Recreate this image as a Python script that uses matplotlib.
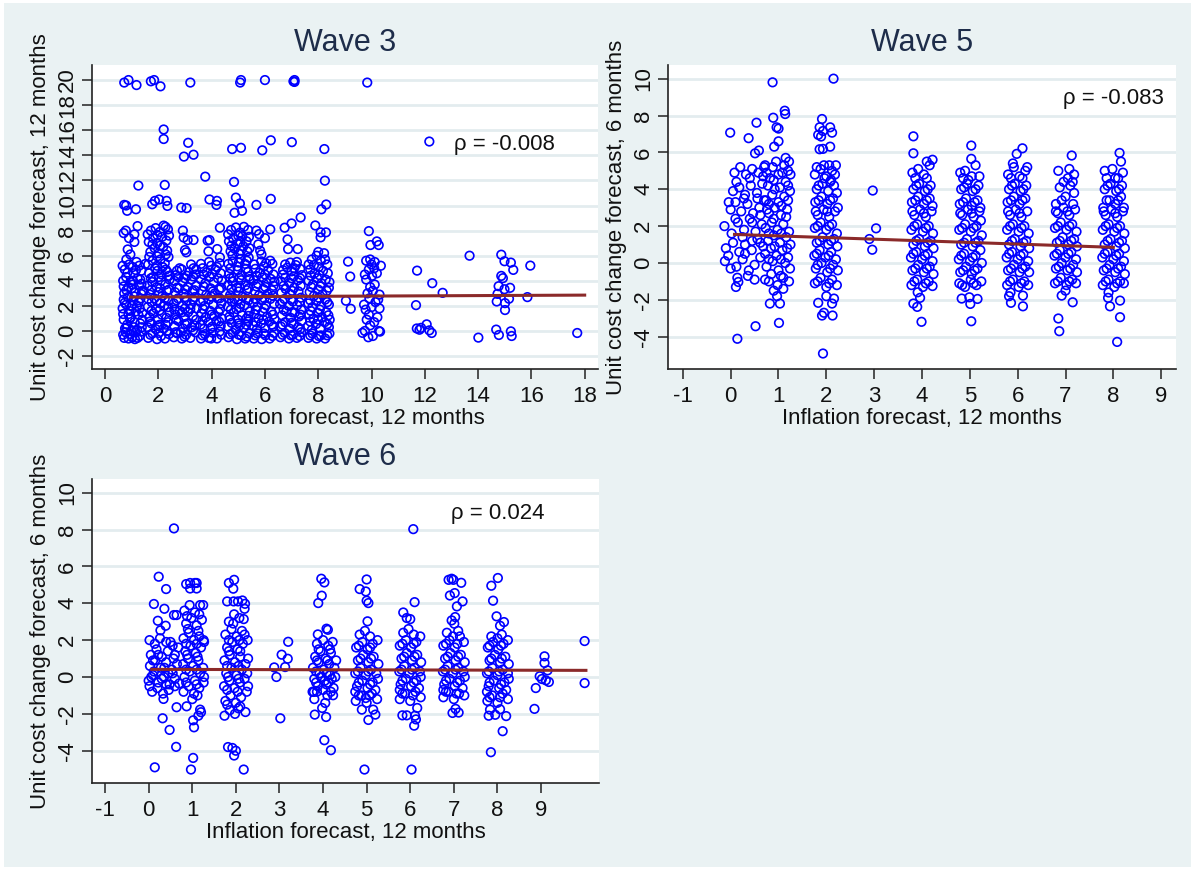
import matplotlib
matplotlib.use("Agg")
import matplotlib.pyplot as plt
from matplotlib.patches import Rectangle

plt.rcParams['font.family'] = ['Liberation Sans', 'DejaVu Sans']
plt.rcParams['axes.unicode_minus'] = False

# ---------------- data (inflation forecast x, unit cost change forecast y) -------------
# Wave 3
w3_c1 = [(0.68,-0.3),(0.75,0.2),(0.88,-0.6),(1.02,-0.5),(1.15,-0.1),(1.3,-0.4),(1.38,0.3),(0.7,0.9),
         (0.83,0.5),(0.97,1.1),(1.1,0.7),(1.25,1.3),(1.4,0.9),(0.66,1.8),(0.8,2.1),(0.92,1.6),(1.06,2.4),
         (1.2,2.0),(1.33,2.6),(0.72,3.0),(0.86,2.7),(1.0,3.4),(1.14,3.1),(1.28,3.6),(1.4,3.2),(0.68,4.0),
         (0.79,4.3),(0.95,3.9),(1.08,4.6),(1.22,4.2),(1.36,4.8),(0.74,4.9),(0.9,5.3),(1.04,5.1),(1.18,5.5),
         (0.8,5.7),(0.95,6.1),(0.85,6.5),(0.93,1.0),(1.3,1.8),(0.77,-0.1),(1.2,0.1),(0.98,0.0),(1.12,-0.65),
         (0.7,2.5),(1.05,4.0),(0.88,3.5),(1.51,5.34),(1.37,3.76),(1.45,3.2),
         (0.72,-0.55),(0.95,-0.25),(1.22,-0.55),(1.35,-0.05),(0.8,0.25),(1.08,0.3),(1.32,0.6),(0.68,1.35),
         (0.88,1.35),(1.15,1.55),(1.4,1.45),(0.74,2.25),(1.0,2.0),(1.26,2.3),(0.8,3.25),(1.1,2.75),
         (1.36,2.95),(0.7,3.55),(1.04,3.7),(1.32,4.1),(0.84,4.65),(1.16,4.85),(0.66,5.2),(1.28,5.2),
         (0.72,19.8),(0.88,20.0),(1.18,19.6),(1.25,11.59),(0.72,10.05),(0.79,10.0),(0.83,9.58),(1.16,9.7),
         (0.7,7.8),(0.78,8.0),(1.22,8.36),(1.1,7.7),(0.9,7.4),(1.1,7.1)]
w3_c2 = [(1.62,-0.55),(1.78,-0.2),(1.95,-0.65),(2.1,-0.4),(2.25,-0.6),(2.4,-0.25),(1.6,0.3),(1.74,0.6),
         (1.9,0.15),(2.05,0.5),(2.2,0.2),(2.36,0.7),(1.66,1.1),(1.82,1.4),(1.98,0.95),(2.13,1.3),(2.3,1.05),
         (2.42,1.5),(1.6,1.9),(1.75,2.3),(1.92,1.8),(2.07,2.2),(2.22,2.0),(2.38,2.4),(1.68,2.9),(1.85,2.6),
         (2.0,3.1),(2.15,2.8),(2.32,3.2),(1.6,3.6),(1.77,3.9),(1.94,3.5),(2.1,4.0),(2.26,3.7),(2.42,4.1),
         (1.65,4.6),(1.8,4.3),(1.97,4.8),(2.12,4.5),(2.28,4.9),(2.4,4.4),(1.62,5.3),(1.78,5.6),(1.95,5.2),
         (2.08,5.7),(2.24,5.4),(2.38,5.9),(1.7,6.3),(1.86,6.6),(2.02,6.2),(2.18,6.7),(2.33,6.4),(1.64,7.1),
         (1.8,7.4),(1.96,7.0),(2.14,7.5),(2.3,7.2),(1.72,8.0),(1.9,8.2),(2.06,7.9),(2.2,8.4),(2.36,8.1),
         (2.27,8.3),
         (1.7,-0.3),(2.02,-0.15),(2.32,0.0),(1.68,0.75),(1.98,0.4),(2.28,0.5),(1.74,1.6),(2.05,1.65),
         (2.38,1.9),(1.62,2.55),(1.94,2.4),(2.24,2.6),(1.75,3.3),(2.07,3.4),(2.4,3.3),(1.72,4.2),(2.02,4.3),
         (2.34,4.7),(1.88,5.0),(2.16,5.1),(1.66,5.9),(1.96,5.95),(2.28,6.1),(1.78,6.9),(2.06,6.8),(2.4,7.6),
         (1.6,7.7),(1.96,7.65),
         (1.72,19.9),(1.84,20.0),(2.08,19.5),(2.2,16.06),(2.2,15.3),(2.24,11.64),(1.77,10.1),(1.87,10.37),
         (2.03,10.48),(2.31,10.37),(2.34,9.97)]
w3_c3 = [(2.58,-0.5),(2.72,-0.2),(2.88,-0.6),(3.04,-0.3),(3.2,-0.55),(3.38,-0.1),(2.6,0.4),(2.76,0.8),
         (2.92,0.2),(3.08,0.6),(3.25,0.3),(3.42,0.9),(2.64,1.3),(2.8,1.6),(2.96,1.1),(3.12,1.5),(3.3,1.2),
         (3.44,1.8),(2.58,2.2),(2.74,2.6),(2.9,2.0),(3.06,2.4),(3.22,2.1),(3.36,2.7),(2.62,3.1),(2.78,3.4),
         (2.95,3.0),(3.1,3.5),(3.28,3.2),(3.43,3.6),(2.6,4.0),(2.75,4.3),(2.92,3.9),(3.08,4.4),(3.24,4.1),
         (3.4,4.5),(2.7,4.8),(2.88,4.9),(3.15,4.7),(3.32,5.0),(3.0,1.8),(2.85,-0.1),(3.23,5.3),
         (2.65,-0.1),(2.98,-0.45),(3.3,0.05),(2.68,0.9),(3.0,0.55),(3.36,0.45),(2.6,1.7),(2.9,1.5),
         (3.2,1.75),(2.68,2.45),(3.0,2.7),(3.3,2.5),(2.7,3.45),(3.02,3.3),(3.36,3.25),(2.66,4.45),
         (3.0,4.2),(3.3,4.35),(2.8,5.0),(3.42,4.9),
         (2.92,8.0),(2.95,7.45),(3.1,7.25),(3.32,7.25),(3.0,6.45),(3.05,6.27),(2.86,9.84),(3.06,9.79),
         (2.96,13.9),(3.32,14.05),(3.12,15.0),(3.2,19.8)]
w3_c4 = [(3.6,-0.6),(3.75,-0.25),(3.9,-0.55),(4.05,-0.15),(4.2,-0.6),(4.36,-0.3),(3.58,0.5),(3.72,0.2),
         (3.88,0.7),(4.02,0.35),(4.18,0.8),(4.34,0.4),(3.62,1.4),(3.78,1.1),(3.94,1.6),(4.1,1.2),(4.26,1.5),
         (4.38,1.0),(3.58,2.3),(3.74,2.0),(3.9,2.5),(4.06,2.1),(4.22,2.6),(4.36,2.2),(3.64,3.2),(3.8,2.9),
         (3.96,3.4),(4.12,3.0),(4.28,3.3),(3.6,4.1),(3.76,3.8),(3.92,4.3),(4.08,3.9),(4.24,4.2),(4.38,4.0),
         (3.66,5.0),(3.82,4.7),(3.98,5.2),(4.14,4.9),(4.3,5.4),(3.9,5.5),(4.31,5.87),
         (3.66,-0.35),(3.98,-0.6),(4.3,-0.05),(3.66,0.85),(3.96,0.2),(4.28,0.75),(3.68,1.75),(4.0,1.3),
         (4.32,1.75),(3.68,2.45),(3.98,2.75),(4.3,2.6),(3.7,3.55),(4.04,3.15),(4.36,3.45),(3.7,4.5),
         (4.02,4.55),(4.34,4.6),(3.6,5.35),(4.2,5.1),
         (3.85,7.2),(3.92,7.25),(3.88,6.35),(4.31,8.23),(4.21,6.53),(3.92,10.48),(4.2,10.37),(4.18,10.05),
         (3.76,12.3)]
w3_c5 = [(4.63,-0.5),(4.79,-0.15),(4.95,-0.65),(5.11,-0.35),(5.26,-0.6),(5.41,-0.2),(4.61,0.35),(4.75,0.65),
         (4.91,0.1),(5.06,0.45),(5.21,0.25),(5.37,0.75),(4.67,1.15),(4.83,1.45),(4.99,0.9),(5.14,1.25),
         (5.31,1.0),(5.43,1.55),(4.6,1.95),(4.76,2.35),(4.93,1.75),(5.08,2.15),(5.23,2.05),(5.39,2.45),
         (4.69,2.85),(4.86,2.55),(5.01,3.15),(5.16,2.75),(5.33,3.25),(4.61,3.65),(4.78,3.95),(4.95,3.45),
         (5.11,4.05),(5.27,3.65),(5.43,4.15),(4.66,4.55),(4.81,4.25),(4.98,4.85),(5.13,4.45),(5.29,4.95),
         (5.41,4.35),(4.63,5.35),(4.79,5.55),(4.96,5.15),(5.09,5.75),(5.25,5.35),(5.39,5.85),(4.71,6.35),
         (4.87,6.55),(5.03,6.15),(5.19,6.75),(5.34,6.35),(4.65,7.15),(4.81,7.35),(4.97,6.95),(5.15,7.55),
         (5.31,7.15),(4.73,8.05),(4.91,8.25),(5.07,7.85),(5.21,8.3),(5.37,8.05),
         (4.7,-0.25),(5.02,-0.3),(5.32,-0.45),(4.68,0.9),(5.0,0.6),(5.3,0.5),(4.72,1.7),(5.05,1.85),
         (5.38,1.2),(4.66,2.6),(5.0,2.5),(5.3,2.55),(4.74,3.35),(5.06,3.45),(5.38,3.4),(4.7,4.2),(5.04,4.25),
         (5.36,4.7),(4.7,5.0),(5.02,5.45),(5.32,5.6),(4.78,6.05),(5.1,6.4),(5.42,6.6),(4.74,6.8),(5.08,7.1),
         (5.4,7.5),(4.62,7.7),(5.0,7.6),
         (4.91,10.63),(5.06,10.16),(4.86,9.42),(5.14,9.58),(4.84,11.88),(4.77,14.5),(5.1,14.6),(5.07,19.8),
         (5.1,20.0)]
w3_c6 = [(5.58,-0.6),(5.72,-0.2),(5.88,-0.65),(6.02,-0.35),(6.18,-0.6),(6.34,-0.15),(5.56,0.45),(5.7,0.15),
         (5.86,0.6),(6.0,0.25),(6.16,0.75),(6.32,0.35),(5.6,1.35),(5.76,1.0),(5.92,1.5),(6.08,1.15),(6.24,1.55),
         (6.36,0.95),(5.57,2.25),(5.72,1.95),(5.88,2.45),(6.04,2.05),(6.2,2.55),(6.34,2.15),(5.62,3.15),
         (5.78,2.85),(5.94,3.35),(6.1,2.95),(6.26,3.25),(5.58,4.05),(5.74,3.75),(5.9,4.25),(6.06,3.85),
         (6.22,4.15),(6.36,3.95),(5.64,4.95),(5.8,4.65),(5.96,5.15),(6.12,4.85),(6.28,5.35),(5.86,5.55),
         (6.2,5.6),
         (5.64,-0.35),(5.96,-0.2),(6.28,-0.4),(5.66,0.7),(5.94,0.9),(6.26,0.5),(5.66,1.7),(5.98,1.8),
         (6.3,1.3),(5.64,2.55),(5.98,2.6),(6.3,2.8),(5.68,3.55),(6.02,3.5),(6.32,3.6),(5.68,4.4),(6.0,4.5),
         (6.32,4.5),(5.6,5.3),(6.04,5.4),
         (5.68,8.0),(5.78,7.72),(6.0,7.4),(6.2,8.1),(5.82,6.4),(5.75,6.9),(5.87,6.1),(5.68,10.05),(6.22,10.53),
         (5.9,14.4),(6.22,15.2),(6.0,20.0)]
w3_c7 = [(6.58,-0.5),(6.74,-0.15),(6.9,-0.6),(7.05,-0.3),(7.2,-0.55),(7.36,-0.1),(6.6,0.35),(6.76,0.7),
         (6.92,0.2),(7.08,0.55),(7.24,0.3),(7.38,0.8),(6.64,1.25),(6.8,1.55),(6.96,1.05),(7.12,1.45),
         (7.28,1.15),(7.36,1.7),(6.57,2.15),(6.73,2.55),(6.89,2.0),(7.05,2.35),(7.21,2.05),(7.35,2.65),
         (6.62,3.05),(6.78,3.35),(6.94,2.95),(7.1,3.45),(7.26,3.15),(6.6,3.95),(6.76,4.25),(6.92,3.85),
         (7.08,4.35),(7.24,4.05),(7.38,4.45),(6.68,4.85),(6.84,5.05),(7.0,4.75),(7.16,5.25),(7.32,4.95),
         (6.95,5.45),(7.2,5.5),
         (6.66,-0.3),(6.98,-0.35),(7.3,-0.4),(6.66,0.5),(7.0,0.65),(7.32,0.15),(6.7,1.7),(7.02,1.5),
         (7.34,1.3),(6.66,2.35),(6.98,2.5),(7.3,2.3),(6.7,3.6),(7.02,3.2),(7.34,3.6),(6.68,4.5),(7.0,4.2),
         (7.32,4.2),(6.76,5.3),(7.1,5.0),
         (6.74,8.23),(7.0,8.57),(6.85,7.3),(6.87,6.53),(7.23,6.53),(7.34,9.05),(7.01,15.05),(7.07,19.9),
         (7.11,20.0),(7.11,19.85)]
w3_c8 = [(7.63,-0.55),(7.78,-0.2),(7.94,-0.6),(8.1,-0.35),(8.26,-0.6),(8.42,-0.2),(7.62,0.4),(7.76,0.1),
         (7.92,0.55),(8.08,0.2),(8.24,0.7),(8.4,0.3),(7.66,1.3),(7.82,1.0),(7.98,1.45),(8.14,1.1),(8.3,1.5),
         (8.43,0.9),(7.63,2.2),(7.78,1.9),(7.94,2.4),(8.1,2.0),(8.26,2.5),(8.4,2.1),(7.68,3.1),(7.84,2.8),
         (8.0,3.3),(8.16,2.9),(8.32,3.2),(7.64,4.0),(7.8,3.7),(7.96,4.2),(8.12,3.8),(8.28,4.1),(8.42,3.9),
         (7.7,4.9),(7.86,4.6),(8.02,5.1),(8.18,4.8),(8.34,5.3),(7.76,5.7),(7.94,6.0),(8.1,5.6),(8.22,6.2),
         (8.0,6.3),
         (7.7,-0.35),(8.02,-0.4),(8.34,-0.35),(7.7,0.75),(8.0,0.9),(8.34,0.55),(7.72,1.6),(8.06,1.7),
         (8.38,1.25),(7.7,2.45),(8.02,2.65),(8.34,2.3),(7.74,3.5),(8.08,3.55),(8.4,3.45),(7.72,4.4),
         (8.04,4.45),(8.36,4.6),(7.64,5.3),(8.26,5.7),(7.84,5.25),
         (7.89,8.41),(8.09,7.86),(8.29,7.86),(8.09,7.46),(8.12,9.7),(8.3,10.08),(8.25,11.98),(8.23,14.5)]
w3_c10 = [(9.66,-0.15),(9.75,0.0),(9.88,-0.5),(10.05,-0.4),(10.28,0.0),(10.32,-0.05),(9.95,0.45),(9.82,0.9),
          (10.1,0.7),(9.9,1.3),(10.22,1.1),(9.78,1.7),(10.0,1.9),(10.3,1.8),(9.72,2.1),(10.15,2.3),
          (9.92,2.6),(10.25,2.5),(9.85,3.0),(10.05,3.2),(10.3,2.9),(9.95,3.5),(10.12,3.7),(9.8,4.1),
          (10.02,4.4),(10.2,4.6),(9.75,4.5),(9.9,4.9),(10.1,5.0),(10.35,5.2),(9.8,5.6),(9.95,5.7),
          (10.12,5.5),(10.0,5.3),(9.9,7.96),(9.96,6.85),(10.2,7.14),(10.27,6.85),(9.84,19.8)]
w3_high = [(9.12,5.53),(9.2,4.34),(9.04,2.41),(9.22,1.77),
           (11.71,4.81),(11.67,2.06),(11.7,0.2),(11.8,0.1),(11.86,0.25),(12.07,0.53),(12.17,0.05),
           (12.26,-0.16),(12.28,3.81),(12.67,3.04),(12.17,15.1),(13.68,6.0),(14.01,-0.53),
           (14.87,6.08),(14.99,5.56),(15.23,5.45),(15.32,4.87),(14.87,4.39),(14.93,4.21),(14.77,3.57),
           (14.99,3.33),(15.2,3.44),(14.73,2.96),(15.16,2.57),(14.7,2.35),(15.01,2.22),(15.01,1.67),
           (14.68,0.11),(14.78,-0.32),(15.23,-0.03),(15.26,-0.4),(15.96,5.21),(15.85,2.7),(17.72,-0.16)]
w3_fit = (2.69, 0.0094)          # intercept, slope
w3_fit_range = (0.96, 18.0)
w3_rho = "ρ = -0.008"

# Wave 5
w5_c0 = [(-0.12,0.1),(0.0,-0.3),(0.12,-0.2),(0.25,0.2),(0.38,-0.4),(0.5,-0.1),(0.62,0.3),(-0.1,0.8),
         (0.05,1.1),(0.18,0.6),(0.3,1.0),(0.44,0.7),(0.56,1.3),(0.68,0.9),(-0.13,2.0),(0.02,1.6),(0.15,2.2),
         (0.28,1.8),(0.4,2.4),(0.52,1.7),(0.65,2.1),(0.0,2.9),(0.1,3.3),(0.22,2.8),(0.35,3.2),(0.47,2.7),
         (0.6,3.0),(0.7,3.4),(0.05,3.9),(0.18,4.1),(0.3,3.7),(0.42,4.2),(0.55,3.8),(0.66,4.3),(0.08,4.9),
         (0.2,5.2),(0.32,4.8),(0.45,5.1),(0.58,4.9),(0.7,5.2),(0.14,-0.8),(0.36,-0.7),(0.5,-0.9),(0.25,1.4),
         (0.45,1.2),
         (-0.05,0.4),(0.3,0.5),(0.62,1.1),(0.1,2.4),(0.45,2.2),(0.62,2.6),(0.28,3.5),(0.56,3.5),(0.12,4.4),
         (0.4,4.6),(0.68,4.7),(-0.04,3.3),
         (-0.01,7.07),(0.375,6.77),(0.54,7.61),(0.51,5.95),(0.59,6.1),(0.14,-4.11),(0.52,-3.43),(0.11,-1.3),
         (0.16,-1.03)]
w5_c1 = [(0.72,-0.9),(0.85,-0.6),(0.98,-1.2),(1.1,-0.8),(1.22,-1.0),(0.75,-0.2),(0.88,0.1),(1.0,-0.4),
         (1.14,0.0),(1.24,-0.3),(0.72,0.5),(0.84,0.8),(0.96,0.4),(1.08,0.7),(1.2,0.3),(0.78,1.2),(0.9,1.5),
         (1.03,1.1),(1.16,1.4),(1.25,1.0),(0.73,1.9),(0.86,2.2),(0.98,1.8),(1.1,2.1),(1.22,1.7),(0.8,2.7),
         (0.92,3.0),(1.05,2.6),(1.18,2.9),(0.74,3.4),(0.87,3.7),(1.0,3.3),(1.12,3.6),(1.24,3.9),(0.78,4.2),
         (0.9,4.5),(1.03,4.1),(1.15,4.4),(1.25,4.8),(0.75,4.9),(0.88,5.2),(1.0,4.8),(1.12,5.3),(1.2,5.0),
         (1.15,5.7),(0.95,5.5),
         (0.8,-1.0),(1.05,-0.7),(0.8,0.2),(1.05,0.2),(0.92,0.9),(1.18,0.8),(0.8,1.6),(1.06,1.6),(0.9,2.4),
         (1.16,2.5),(0.8,3.2),(1.06,3.1),(0.92,4.0),(1.2,4.2),(0.82,4.6),(1.08,4.9),(0.72,5.3),(1.22,5.5),
         (0.76,2.9),(1.2,3.4),
         (0.876,9.8),(0.89,7.88),(1.0,7.29),(0.96,7.36),(1.0,6.6),(0.91,6.31),(1.13,8.26),(1.14,8.08),
         (1.01,-3.25),(0.82,-2.2),(1.03,-2.2),(0.97,-1.8),(0.9,-1.5),(1.1,-1.4)]
w5_c2 = [(1.76,-1.1),(1.88,-0.8),(2.0,-1.3),(2.12,-0.9),(2.22,-1.2),(1.78,-0.3),(1.9,0.0),(2.02,-0.5),
         (2.14,-0.1),(2.24,-0.4),(1.75,0.4),(1.86,0.7),(1.98,0.3),(2.1,0.6),(2.2,0.2),(1.8,1.1),(1.92,1.4),
         (2.04,1.0),(2.16,1.3),(2.23,0.9),(1.76,1.9),(1.88,2.2),(2.0,1.8),(2.12,2.1),(2.22,1.6),(1.82,2.6),
         (1.94,2.9),(2.06,2.5),(2.18,2.8),(1.77,3.3),(1.9,3.6),(2.02,3.2),(2.14,3.5),(2.24,3.0),(1.8,4.0),
         (1.92,4.3),(2.04,3.9),(2.16,4.2),(2.22,3.8),(1.76,4.8),(1.88,5.1),(2.0,4.7),(2.12,5.0),(2.2,5.3),
         (1.95,5.3),(2.08,4.4),
         (1.82,-1.0),(2.06,-1.1),(1.82,-0.1),(2.08,-0.3),(1.8,0.5),(2.05,0.4),(1.86,1.2),(2.1,1.2),(1.82,2.0),
         (2.06,2.0),(1.78,2.8),(2.02,2.8),(1.84,3.4),(2.08,3.4),(1.84,4.2),(2.1,4.5),(1.8,5.2),(2.06,5.3),
         (2.18,4.8),(1.96,4.6),
         (2.15,10.0),(1.91,7.81),(1.86,7.36),(1.93,7.16),(2.12,7.07),(2.08,7.36),(1.83,6.95),(1.89,6.86),
         (1.86,6.17),(1.93,6.19),(2.08,6.31),(1.93,-4.91),(1.83,-2.16),(1.91,-2.85),(1.95,-2.7),
         (2.13,-2.85),(2.12,-2.2),(2.16,-1.93),(2.0,-1.8)]
w5_c3 = [(2.9,1.3),(2.96,0.72),(3.04,1.88),(2.97,3.93)]
w5_c4 = [(3.78,-1.2),(3.9,-0.9),(4.02,-1.3),(4.14,-1.0),(4.22,-1.25),(3.8,-0.4),(3.92,-0.1),(4.04,-0.5),
         (4.16,-0.2),(4.24,-0.6),(3.77,0.3),(3.88,0.6),(4.0,0.2),(4.12,0.5),(4.22,0.1),(3.82,1.0),(3.94,1.3),
         (4.06,0.9),(4.18,1.2),(4.24,0.8),(3.78,1.8),(3.9,2.1),(4.02,1.7),(4.14,2.0),(4.23,1.6),(3.84,2.6),
         (3.96,2.9),(4.08,2.5),(4.2,2.8),(3.79,3.3),(3.92,3.6),(4.04,3.2),(4.16,3.5),(4.22,3.1),(3.82,4.0),
         (3.94,4.3),(4.06,3.9),(4.18,4.2),(3.8,4.9),(3.92,5.1),(4.04,4.8),(4.16,5.3),(4.22,5.6),(4.1,5.5),
         (3.84,-1.0),(4.08,-1.1),(3.86,-0.3),(4.1,-0.3),(3.82,0.5),(4.06,0.4),(3.88,1.2),(4.12,1.1),(3.84,2.0),
         (4.08,1.9),(3.8,2.8),(4.04,2.7),(3.86,3.4),(4.1,3.4),(3.88,4.2),(4.12,4.0),(3.86,4.6),(4.1,4.6),
         (3.82,6.87),(3.82,5.95),(3.99,-3.19),(3.82,-2.2),(3.9,-2.38),(3.96,-1.89),(3.91,-1.59)]
w5_c5 = [(4.78,-1.1),(4.9,-1.3),(5.02,-0.9),(5.14,-1.2),(5.24,-1.0),(4.8,-0.5),(4.92,-0.2),(5.04,-0.6),
         (5.16,-0.3),(5.25,0.0),(4.77,0.2),(4.88,0.5),(5.0,0.1),(5.12,0.4),(5.22,0.7),(4.82,1.0),(4.94,1.3),
         (5.06,0.9),(5.18,1.2),(5.25,1.5),(4.78,1.8),(4.9,2.1),(5.02,1.7),(5.14,2.0),(5.23,2.3),(4.84,2.6),
         (4.96,2.9),(5.08,2.5),(5.2,2.8),(4.79,3.2),(4.92,3.5),(5.04,3.1),(5.16,3.4),(5.22,3.0),(4.82,4.0),
         (4.94,4.3),(5.06,3.9),(5.18,4.2),(4.8,4.9),(4.9,5.0),(5.04,4.7),(5.12,5.3),(4.97,4.5),
         (4.84,-1.2),(5.08,-1.1),(4.86,-0.4),(5.1,-0.4),(4.82,0.4),(5.06,0.3),(4.88,1.1),(5.12,1.1),(4.84,1.9),
         (5.08,1.9),(4.8,2.7),(5.04,2.7),(4.86,3.3),(5.1,3.3),(4.88,4.1),(5.12,4.0),(4.86,4.6),(5.2,4.7),
         (5.03,6.37),(5.03,5.65),(5.03,-3.16),(4.83,-1.93),(5.01,-2.22),(4.99,-1.86),(5.16,-1.95)]
w5_c6 = [(5.78,-1.2),(5.9,-0.9),(6.02,-1.3),(6.14,-1.0),(6.22,-1.2),(5.8,-0.4),(5.92,-0.1),(6.04,-0.5),
         (6.16,-0.2),(6.24,-0.5),(5.77,0.3),(5.88,0.6),(6.0,0.2),(6.12,0.5),(6.22,0.1),(5.82,1.0),(5.94,1.3),
         (6.06,0.9),(6.18,1.2),(6.24,0.8),(5.78,1.8),(5.9,2.1),(6.02,1.7),(6.14,2.0),(6.23,1.6),(5.84,2.6),
         (5.96,2.9),(6.08,2.5),(6.2,2.8),(5.79,3.3),(5.92,3.6),(6.04,3.2),(6.16,3.5),(5.82,4.0),(5.94,4.3),
         (6.06,3.9),(6.18,4.2),(5.8,4.8),(5.92,5.2),(6.04,4.7),(6.16,5.0),(6.2,5.2),(5.9,5.4),
         (5.84,-1.0),(6.08,-1.1),(5.86,-0.3),(6.1,-0.3),(5.82,0.5),(6.06,0.4),(5.88,1.2),(6.12,1.1),(5.84,2.0),
         (6.08,1.9),(5.8,2.8),(6.04,2.7),(5.86,3.4),(6.1,3.4),(5.88,4.2),(6.12,4.0),(5.86,4.6),(6.1,4.6),
         (6.1,6.22),(5.98,5.92),(5.86,-2.16),(6.11,-2.35),(6.11,-1.77),(5.82,-1.8),(5.85,-1.6)]
w5_c7 = [(6.78,-1.1),(6.9,-0.8),(7.02,-1.2),(7.14,-0.9),(7.22,-1.1),(6.8,-0.3),(6.92,0.0),(7.04,-0.4),
         (7.16,-0.1),(7.24,-0.5),(6.77,0.4),(6.88,0.7),(7.0,0.3),(7.12,0.6),(7.22,0.2),(6.82,1.1),(6.94,1.4),
         (7.06,1.0),(7.18,1.3),(7.24,0.9),(6.78,1.9),(6.9,2.2),(7.02,1.8),(7.14,2.1),(7.23,1.7),(6.84,2.7),
         (6.96,3.0),(7.08,2.6),(7.2,2.9),(6.8,3.2),(7.0,3.6),(7.1,4.2),(7.18,3.8),(6.88,4.1),(6.85,5.0),
         (7.05,4.6),(7.08,5.1),(7.15,4.4),
         (6.84,-1.0),(7.08,-1.0),(6.86,-0.2),(7.1,-0.3),(6.82,0.5),(7.06,0.5),(6.88,1.2),(7.12,1.2),(6.84,2.0),
         (7.08,2.0),(6.8,2.8),(7.04,2.8),(6.92,3.4),(7.16,3.2),(6.96,4.4),(7.18,4.8),
         (7.13,5.83),(6.85,-3.01),(6.87,-3.7),(7.15,-2.13),(6.92,-1.77),(7.0,-1.5)]
w5_c8 = [(7.78,-1.2),(7.9,-0.9),(8.02,-1.3),(8.14,-1.0),(8.22,-1.1),(7.8,-0.4),(7.92,-0.1),(8.04,-0.5),
         (8.16,-0.2),(8.24,-0.6),(7.77,0.3),(7.88,0.6),(8.0,0.2),(8.12,0.5),(8.22,0.1),(7.82,1.0),(7.94,1.3),
         (8.06,0.9),(8.18,1.2),(8.24,0.8),(7.78,1.8),(7.9,2.1),(8.02,1.7),(8.14,2.0),(8.23,1.6),(7.84,2.6),
         (7.96,2.9),(8.08,2.5),(8.2,2.8),(7.79,3.0),(7.92,3.4),(8.04,3.2),(8.16,3.6),(8.22,3.0),(7.82,4.0),
         (7.94,4.3),(8.06,3.9),(8.18,4.2),(7.82,5.0),(7.98,5.1),(8.04,4.6),(8.16,5.5),(8.2,4.9),
         (7.84,-1.0),(8.08,-1.1),(7.86,-0.3),(8.1,-0.3),(7.82,0.5),(8.06,0.4),(7.88,1.2),(8.12,1.1),(7.84,2.0),
         (8.08,1.9),(7.8,2.8),(8.04,2.7),(7.86,3.4),(8.1,3.4),(7.88,4.2),(8.12,4.0),(7.86,4.6),(8.1,4.6),
         (8.13,5.97),(8.08,-4.28),(8.14,-2.94),(7.93,-2.35),(8.14,-2.04),(7.89,-1.89),(7.9,-1.6)]
w5_fit = (1.557, -0.0884)
w5_fit_range = (0.08, 8.0)
w5_rho = "ρ = -0.083"

# Wave 6
w6_c0 = [(0.0,-0.2),(0.1,0.1),(0.22,-0.3),(0.35,0.0),(0.48,-0.4),(0.6,-0.1),(0.7,-0.35),(0.03,0.6),
         (0.15,0.9),(0.28,0.5),(0.4,0.8),(0.53,0.4),(0.65,0.7),(0.05,1.2),(0.18,1.5),(0.3,1.1),(0.44,1.4),
         (0.57,1.0),(0.68,1.6),(0.02,2.0),(0.14,1.8),(0.26,2.1),(0.4,1.9),(0.55,1.7),(0.08,-0.8),(0.2,-0.6),
         (0.33,-0.9),(0.46,-0.7),(0.6,-0.5),(0.12,0.3),(0.45,0.2),
         (0.06,0.0),(0.3,-0.1),(0.55,0.2),(0.1,0.9),(0.36,0.5),(0.6,1.2),(0.22,1.2),(0.5,1.9),(0.02,-0.5),
         (0.4,-0.4),
         (0.58,8.06),(0.23,5.44),(0.4,4.77),(0.12,3.96),(0.36,3.7),(0.58,3.36),(0.64,3.36),(0.21,3.05),
         (0.39,2.78),(0.27,2.53),(0.32,-2.24),(0.48,-2.87),(0.63,-3.79),(0.14,-4.9),(0.64,-1.64),(0.34,-1.19)]
w6_c1 = [(0.8,-0.8),(0.92,-0.5),(1.04,-0.9),(1.16,-0.6),(1.26,-0.3),(0.82,0.0),(0.94,0.3),(1.06,-0.2),
         (1.18,0.2),(1.27,0.0),(0.79,0.7),(0.9,1.0),(1.02,0.6),(1.14,0.9),(1.25,0.5),(0.84,1.4),(0.96,1.7),
         (1.08,1.3),(1.2,1.6),(1.27,1.9),(0.8,2.1),(0.92,2.4),(1.04,2.0),(1.16,2.2),(1.26,2.0),(0.86,2.9),
         (0.98,3.2),(1.1,2.8),(1.22,3.1),(0.82,3.6),(0.94,3.9),(1.06,3.5),(1.18,3.9),(1.25,3.9),
         (0.86,-0.3),(1.1,-0.4),(0.86,0.4),(1.1,0.4),(0.88,1.2),(1.12,1.1),(0.86,1.8),(1.1,1.8),(0.9,2.6),
         (1.14,2.5),(0.88,3.3),(1.16,3.4),
         (0.86,5.04),(0.95,5.1),(1.06,5.1),(1.1,5.1),(0.95,4.8),(1.1,4.8),
         (0.97,-5.02),(1.02,-4.39),(1.02,-2.35),(1.04,-2.73),(1.14,-2.1),(1.18,-1.77),(1.2,-1.91),
         (0.87,-1.59),(1.0,-1.2),(1.12,-1.0)]
w6_c2 = [(1.74,-2.1),(1.86,-1.8),(1.98,-2.0),(2.1,-1.6),(2.22,-1.9),(1.76,-1.3),(1.88,-1.0),(2.0,-1.4),
         (2.12,-1.1),(2.25,-0.8),(1.73,-0.5),(1.85,-0.2),(1.97,-0.6),(2.09,-0.3),(2.2,-0.1),(2.28,-0.5),
         (1.78,0.2),(1.9,0.5),(2.02,0.1),(2.14,0.4),(2.26,0.2),(1.74,0.9),(1.86,1.2),(1.98,0.8),(2.1,1.1),
         (2.22,0.7),(2.28,1.0),(1.8,1.6),(1.92,1.9),(2.04,1.5),(2.16,1.8),(2.27,2.0),(1.76,2.3),(1.9,2.6),
         (2.02,2.2),(2.14,2.5),(1.84,3.0),(1.96,3.4),(2.08,3.2),(2.2,3.7),(1.94,2.9),
         (1.8,-1.5),(2.06,-1.7),(1.8,-0.7),(2.04,-0.8),(1.82,0.0),(2.06,-0.1),(1.8,0.6),(2.06,0.6),(1.84,1.4),
         (2.1,1.4),(1.84,2.0),(2.08,2.0),(2.2,2.3),
         (1.96,5.27),(1.84,5.1),(1.94,4.79),(1.8,4.1),(1.95,4.1),(2.05,4.1),(2.15,4.15),(2.21,3.97),
         (2.18,3.14),(1.82,-3.8),(1.92,-3.85),(2.0,-4.0),(1.96,-4.26),(2.18,-5.02)]
w6_c3 = [(2.88,0.52),(2.93,0.0),(3.05,1.21),(3.13,0.54),(3.19,0.99),(3.2,1.91),(3.02,-2.24)]
w6_c4 = [(3.76,-0.8),(3.88,-0.5),(4.0,-0.7),(4.12,-0.3),(4.24,-0.6),(3.8,-0.1),(3.92,0.2),(4.04,-0.2),
         (4.16,0.1),(4.28,0.0),(3.77,0.5),(3.9,0.8),(4.02,0.4),(4.14,0.7),(4.26,0.5),(3.82,1.1),(3.94,1.4),
         (4.06,1.0),(4.18,1.3),(4.3,0.9),(3.86,1.8),(4.0,2.0),(4.12,1.7),(4.22,1.9),(3.8,-1.2),(4.1,-1.0),
         (3.95,0.0),(4.2,-0.1),
         (3.84,-0.3),(4.08,-0.4),(3.84,0.3),(4.08,0.2),(3.86,0.9),(4.1,0.9),(3.9,1.5),(4.16,1.5),(3.86,-0.8),
         (4.18,-0.8),
         (3.96,5.33),(4.03,5.13),(3.97,4.41),(3.89,4.01),(3.88,2.31),(4.08,2.62),(4.11,2.56),(3.81,-2.04),
         (4.07,-2.17),(4.03,-3.43),(4.18,-3.97),(3.98,-1.68),(4.05,-1.41),(4.23,-0.99),(3.79,-0.81)]
w6_c5 = [(4.75,-1.3),(4.88,-1.0),(5.0,-1.4),(5.12,-0.9),(5.24,-1.2),(4.78,-0.5),(4.9,-0.2),(5.02,-0.6),
         (5.14,-0.3),(5.26,-0.1),(4.74,0.2),(4.86,0.5),(4.98,0.1),(5.1,0.4),(5.22,0.2),(4.8,0.9),(4.92,1.2),
         (5.04,0.8),(5.16,1.1),(5.27,0.7),(4.76,1.6),(4.9,1.9),(5.02,1.5),(5.14,1.8),(5.25,2.0),(4.84,2.3),
         (4.96,2.5),(5.08,2.2),
         (4.82,-1.0),(5.06,-1.0),(4.82,-0.3),(5.08,-0.4),(4.8,0.3),(5.04,0.3),(4.86,1.0),(5.1,1.0),(4.82,1.7),
         (5.08,1.6),(5.2,-0.7),(4.74,-0.8),
         (5.0,5.29),(4.84,4.77),(4.98,4.64),(5.0,4.14),(5.04,4.01),(5.02,3.02),(4.95,-5.02),(5.04,-2.33),
         (5.2,-2.04),(5.15,-1.77),(4.89,-1.77),(4.98,-1.14)]
w6_c6 = [(5.76,-1.2),(5.88,-0.9),(6.0,-1.3),(6.12,-0.8),(6.24,-1.1),(5.78,-0.4),(5.9,-0.1),(6.02,-0.5),
         (6.14,-0.2),(6.24,0.0),(5.75,0.3),(5.86,0.6),(5.98,0.2),(6.1,0.5),(6.22,0.3),(5.8,1.0),(5.92,1.3),
         (6.04,0.9),(6.16,1.2),(6.25,0.8),(5.76,1.7),(5.9,2.0),(6.02,1.6),(6.14,1.9),(6.23,2.2),(5.84,2.4),
         (5.96,2.6),(6.08,2.3),
         (5.82,-0.9),(6.06,-1.0),(5.82,-0.2),(6.08,-0.3),(5.8,0.4),(6.04,0.4),(5.86,1.1),(6.1,1.1),(5.82,1.8),
         (6.08,1.8),(6.2,-0.6),(5.76,-0.7),
         (6.07,8.02),(6.1,4.06),(5.84,3.5),(5.92,3.2),(6.0,3.14),(6.09,-2.64),(6.13,-2.3),(6.11,-2.1),
         (5.82,-2.08),(5.92,-2.08),(6.03,-5.02),(6.16,-1.68)]
w6_c7 = [(6.76,-1.1),(6.88,-0.8),(7.0,-1.2),(7.12,-0.9),(7.24,-1.0),(6.78,-0.4),(6.9,-0.1),(7.02,-0.5),
         (7.14,-0.2),(7.25,0.0),(6.75,0.3),(6.86,0.6),(6.98,0.2),(7.1,0.5),(7.22,0.3),(6.8,1.0),(6.92,1.3),
         (7.04,0.9),(7.16,1.2),(7.25,0.8),(6.76,1.7),(6.9,2.0),(7.02,1.6),(7.14,2.2),(7.23,1.9),(6.84,2.4),
         (6.98,2.2),(7.1,2.5),
         (6.82,-0.8),(7.06,-0.9),(6.82,-0.2),(7.08,-0.3),(6.8,0.4),(7.04,0.4),(6.86,1.1),(7.1,1.1),(6.82,1.8),
         (7.08,1.8),(7.2,-0.6),(6.76,-0.7),
         (6.88,5.27),(6.95,5.33),(6.99,5.27),(7.17,5.11),(6.91,4.42),(7.02,4.55),(7.2,4.1),(7.07,3.83),
         (6.95,3.07),(7.01,2.89),(7.03,3.25),(6.97,-1.95),(7.11,-1.93),(7.04,-1.73)]
w6_c8 = [(7.77,-1.3),(7.88,-1.0),(8.0,-1.4),(8.12,-0.9),(8.24,-1.2),(7.8,-0.5),(7.92,-0.2),(8.04,-0.6),
         (8.16,-0.3),(8.26,-0.1),(7.76,0.2),(7.88,0.5),(8.0,0.1),(8.12,0.4),(8.24,0.2),(7.82,0.9),(7.94,1.2),
         (8.06,0.8),(8.18,1.1),(8.26,0.7),(7.78,1.6),(7.9,1.9),(8.02,1.5),(8.14,1.8),(8.24,2.0),(7.86,2.2),
         (8.0,2.1),(8.1,2.3),
         (7.82,-1.1),(8.06,-1.1),(7.82,-0.3),(8.08,-0.4),(7.8,0.3),(8.04,0.3),(7.86,1.0),(8.1,1.0),(7.82,1.7),
         (8.08,1.7),(8.2,-0.7),(7.76,-0.8),
         (8.01,5.37),(7.86,4.95),(7.9,4.14),(7.98,3.29),(8.15,2.98),(8.06,2.78),(7.85,-4.08),(8.12,-2.94),
         (7.8,-2.1),(7.95,-2.05),(8.2,-2.12),(7.83,-1.77),(8.06,-1.75)]
w6_c9 = [(9.08,1.12),(9.08,0.76),(9.15,0.36),(8.97,0.04),(9.02,-0.11),(9.11,-0.18),(9.18,-0.27),
         (8.88,-0.6),(8.85,-1.73),(10.0,1.95),(10.0,-0.33)]
w6_fit = (0.415, -0.0055)
w6_fit_range = (0.07, 10.03)
w6_rho = "ρ = 0.024"

titles = ["Wave 3", "Wave 5", "Wave 6"]
xlabel = "Inflation forecast, 12 months"
ylabels = ["Unit cost change forecast, 12 months",
           "Unit cost change forecast, 6 months",
           "Unit cost change forecast, 6 months"]
w3_xticks = list(range(0, 19, 2))
w3_yticks = list(range(-2, 21, 2))
w56_xticks = list(range(-1, 10))
w56_yticks = list(range(-4, 11, 2))

# ---------------- drawing ----------------
W, H = 1191, 869
fig = plt.figure(figsize=(W / 100, H / 100), dpi=100)
fig.patch.set_facecolor("white")
fig.add_artist(Rectangle((4 / W, 2 / H), (W - 4) / W, (H - 5) / H,
                         transform=fig.transFigure, facecolor="#EAF2F3",
                         edgecolor="none", zorder=0))

GRID = "#E3ECEF"
BLUE = "#0000FF"
FIT = "#8B2A2A"
TITLE = "#1E2D4A"


def px_axes(l, t, r, b):
    return fig.add_axes([l / W, 1 - b / H, (r - l) / W, (b - t) / H])


def panel(ax, pts, fit, frange, rho, rho_xy, title, ylabel, xticks, yticks, xlim, ylim):
    ax.set_facecolor("white")
    xs = [p[0] for p in pts]
    ys = [p[1] for p in pts]
    ax.set_xlim(*xlim)
    ax.set_ylim(*ylim)
    for yt in yticks:
        ax.axhline(yt, color=GRID, lw=2.0, zorder=1)
    ax.scatter(xs, ys, s=38, facecolors="none", edgecolors=BLUE, linewidths=1.2, zorder=3)
    a, b = fit
    ax.plot(list(frange), [a + b * frange[0], a + b * frange[1]], color=FIT, lw=2.2, zorder=4)
    ax.text(rho_xy[0], rho_xy[1], rho, fontsize=16, ha="center", va="center", color="#111111", zorder=5)
    for s in ["top", "right"]:
        ax.spines[s].set_visible(False)
    for s in ["left", "bottom"]:
        ax.spines[s].set_color("#222222")
        ax.spines[s].set_linewidth(1.2)
    ax.set_xticks(xticks)
    ax.set_yticks(yticks)
    ax.tick_params(axis="both", direction="out", length=7, width=1.1, color="#222222",
                   labelsize=16, labelcolor="#111111")
    ax.tick_params(axis="x", pad=5)
    ax.tick_params(axis="y", pad=3)
    for lab in ax.get_yticklabels():
        lab.set_rotation(90)
        lab.set_va("center")
        lab.set_ha("right")
    ax.text(0.5, 1.072, title, transform=ax.transAxes, ha="center", va="center",
            fontsize=22, color=TITLE)
    ax.text(0.5, -0.164, xlabel, transform=ax.transAxes, ha="center", va="center",
            fontsize=16, color="#111111")
    ax.text(-0.102, 0.5, ylabel, transform=ax.transAxes, ha="center", va="center",
            rotation=90, fontsize=16, color="#111111")


ax3 = px_axes(92, 65, 598, 369)
panel(ax3, w3_c1 + w3_c2 + w3_c3 + w3_c4 + w3_c5 + w3_c6 + w3_c7 + w3_c8 + w3_c10 + w3_high,
      w3_fit, w3_fit_range, w3_rho, (15.0, 14.9), titles[0], ylabels[0],
      w3_xticks, w3_yticks, (-0.49, 18.5), (-3.03, 21.2))

ax5 = px_axes(668, 65, 1176, 369)
panel(ax5, w5_c0 + w5_c1 + w5_c2 + w5_c3 + w5_c4 + w5_c5 + w5_c6 + w5_c7 + w5_c8,
      w5_fit, w5_fit_range, w5_rho, (8.0, 8.9), titles[1], ylabels[1],
      w56_xticks, w56_yticks, (-1.31, 9.31), (-5.75, 10.74))

ax6 = px_axes(92, 479, 599, 783)
panel(ax6, w6_c0 + w6_c1 + w6_c2 + w6_c3 + w6_c4 + w6_c5 + w6_c6 + w6_c7 + w6_c8 + w6_c9,
      w6_fit, w6_fit_range, w6_rho, (8.0, 8.89), titles[2], ylabels[2],
      w56_xticks, w56_yticks, (-1.3, 10.33), (-5.75, 10.74))

fig.savefig("out.png", dpi=100)
